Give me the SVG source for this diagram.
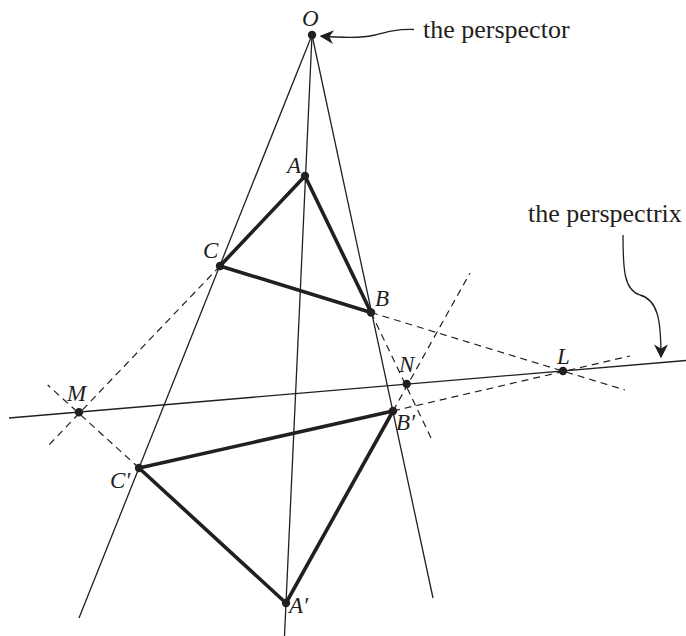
<svg xmlns="http://www.w3.org/2000/svg" width="686" height="636" viewBox="0 0 686 636">
<style>
.thin{stroke:#231f20;stroke-width:1.3;fill:none}
.dash{stroke:#231f20;stroke-width:1.2;fill:none;stroke-dasharray:7 5}
.thick{stroke:#231f20;stroke-width:3.6;fill:none;stroke-linejoin:round}
.dot{fill:#231f20}
.lbl{font-family:"Liberation Serif",serif;font-style:italic;font-size:23px;fill:#231f20}
.txt{font-family:"Liberation Serif",serif;font-size:26px;fill:#231f20}
</style>
<defs>
<marker id="ah2" viewBox="0 0 10 10" refX="9" refY="5" markerWidth="14" markerHeight="14" markerUnits="userSpaceOnUse" orient="auto">
<path d="M0,0 L10,5 L0,10 L3,5 Z" fill="#231f20"/>
</marker>
</defs>
<g id="connectors">
<line class="thin" x1="312" y1="35" x2="79" y2="618"/>
<line class="thin" x1="312" y1="35" x2="284.5" y2="636"/>
<line class="thin" x1="312" y1="35" x2="433" y2="598"/>
<line class="thin" x1="9" y1="418" x2="686" y2="360.5"/>
<line class="dash" x1="220" y1="266" x2="47" y2="447"/>
<line class="dash" x1="139" y1="468" x2="47.7" y2="385"/>
<line class="dash" x1="371" y1="312.5" x2="432" y2="440"/>
<line class="dash" x1="393" y1="411" x2="470" y2="273"/>
<line class="dash" x1="371" y1="312.5" x2="625" y2="390"/>
<line class="dash" x1="393" y1="411" x2="630" y2="356"/>
<path class="thin" d="M414,29.5 C396,29 386,32 375,35 C364,38 350,38.5 321,36" marker-end="url(#ah2)"/>
<path class="thin" d="M623,235 C623,270 624,290 640,295 C658,300 661,320 661,357" marker-end="url(#ah2)"/>
</g>
<g id="triangle-ABC">
<polygon class="thick" points="305,176 220,266 371,312.5"/>
</g>
<g id="triangle-A2B2C2">
<polygon class="thick" points="286,603 139,468 393,411"/>
</g>
<g id="O"><circle class="dot" cx="312" cy="35" r="4.2"/><text class="lbl" x="302" y="25.5">O</text></g>
<g id="A"><circle class="dot" cx="305" cy="176" r="4.2"/><text class="lbl" x="287" y="173">A</text></g>
<g id="B"><circle class="dot" cx="371" cy="312.5" r="4.2"/><text class="lbl" x="375" y="306">B</text></g>
<g id="C"><circle class="dot" cx="220" cy="266" r="4.2"/><text class="lbl" x="203" y="258">C</text></g>
<g id="A2"><circle class="dot" cx="286" cy="603" r="4.2"/><text class="lbl" x="289" y="613">A′</text></g>
<g id="B2"><circle class="dot" cx="393" cy="411" r="4.2"/><text class="lbl" x="396" y="430">B′</text></g>
<g id="C2"><circle class="dot" cx="139" cy="468" r="4.2"/><text class="lbl" x="110" y="488">C′</text></g>
<g id="L"><circle class="dot" cx="563" cy="371" r="4.2"/><text class="lbl" x="557" y="364">L</text></g>
<g id="M"><circle class="dot" cx="79" cy="412.3" r="4.2"/><text class="lbl" x="67" y="401">M</text></g>
<g id="N"><circle class="dot" cx="406.7" cy="384" r="4.2"/><text class="lbl" x="399" y="372">N</text></g>
<g id="perspector-label"><text class="txt" x="423" y="38">the perspector</text></g>
<g id="perspectrix-label"><text class="txt" x="528" y="222">the perspectrix</text></g>
</svg>
